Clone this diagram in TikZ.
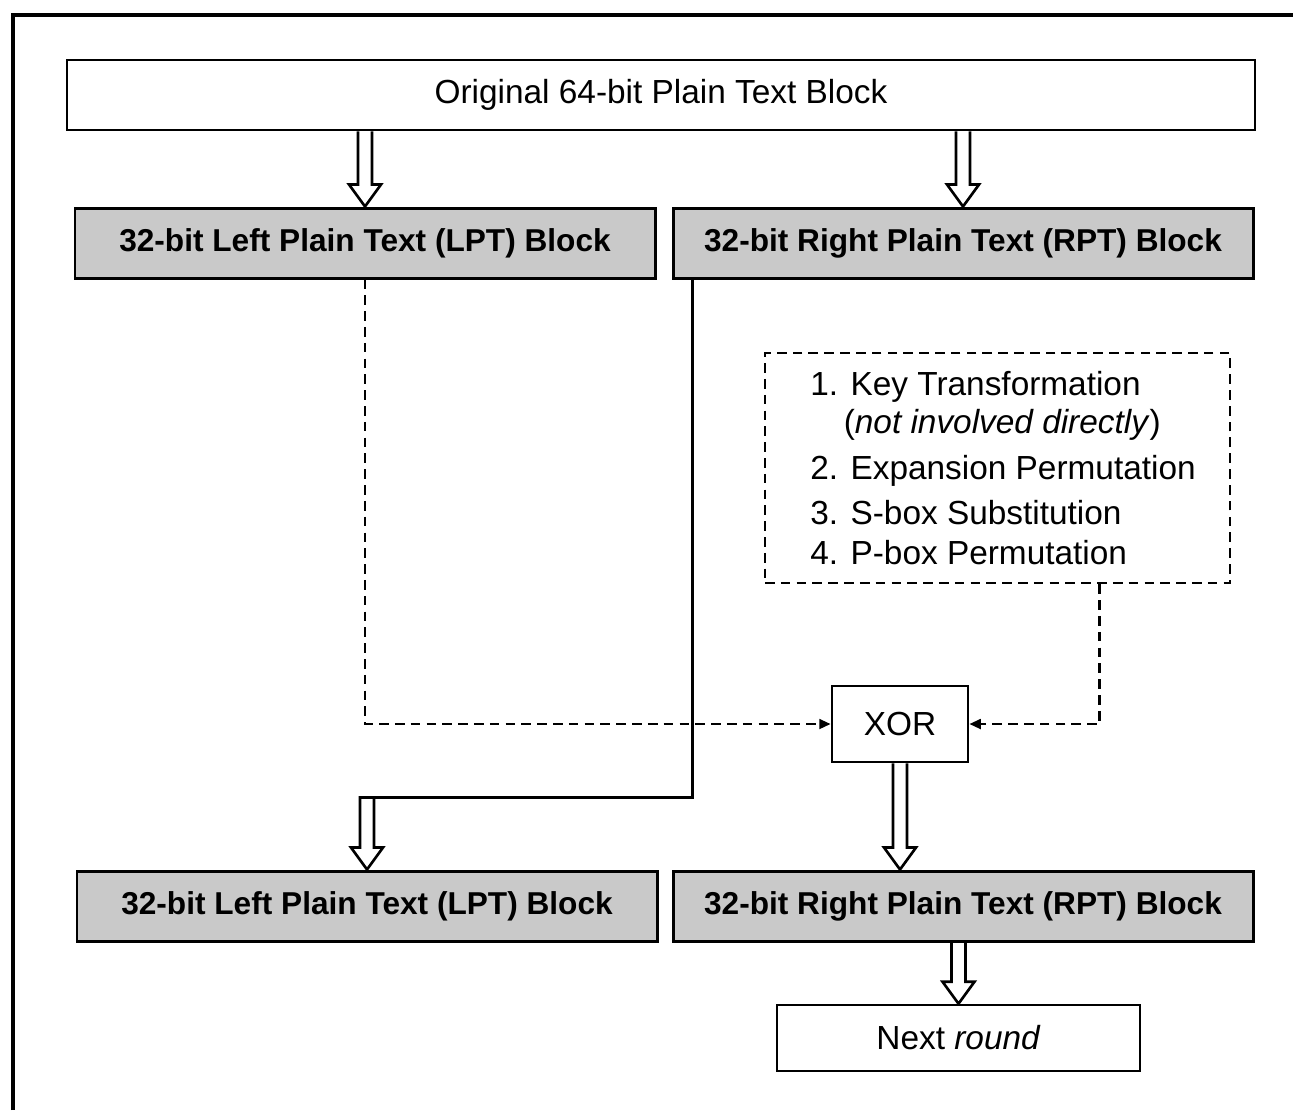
\documentclass[tikz,border=0pt]{standalone}
\usepackage{fontspec}
\setmainfont{Liberation Sans}
\usetikzlibrary{arrows.meta,calc}

\newlength\px
\setlength\px{0.02cm}

% hollow downward block arrow from #1 to #2 (same x)
\newcommand\fatdown[2]{%
  \draw[fatline] let \p1=(#1), \p2=(#2) in
    (\x1-7\px,\y1) -- (\x1-7\px,\y2+22\px) -- (\x1-16\px,\y2+22\px) -- (\x1,\y2)
    -- (\x1+16\px,\y2+22\px) -- (\x1+7\px,\y2+22\px) -- (\x1+7\px,\y1);}

\tikzset{
  txt/.style={font=\fontsize{19}{21.5}\selectfont},
  plainbox/.style={draw, line width=1.5pt, fill=white, inner sep=0pt, txt},
  halfbox/.style={draw, line width=1.7pt, fill=gray!42, inner sep=0pt,
    minimum width=580\px, minimum height=70\px,
    font=\fontsize{18}{21}\selectfont\bfseries},
  fatline/.style={line width=1.5pt, line join=miter},
  dashline/.style={line width=1.5pt, dash pattern=on 5.5pt off 3.5pt,
    -{Triangle[length=6.5pt,width=5.5pt]}},
}

\begin{document}
\begin{tikzpicture}[x=1\px, y=-1\px]
\useasboundingbox (0,0) rectangle (1293,1110);

% page frame (top and left edges)
\draw[line width=1.8pt] (13,1110) -- (13,15) -- (1293,15);

% blocks
\node[plainbox, minimum width=1188\px, minimum height=70\px] (orig) at (661,95)
  {Original 64-bit Plain Text Block};
\node[halfbox] (lpt1) at (365,243) {32-bit Left Plain Text (LPT) Block};
\node[halfbox] (rpt1) at (963,243) {32-bit Right Plain Text (RPT) Block};

\node[draw, line width=1.5pt, dash pattern=on 5.5pt off 3.5pt,
      minimum width=465\px, minimum height=230\px, inner sep=0pt] (steps) at (997.5,468) {};
\node[txt, align=left, anchor=west, inner sep=0pt] (stepstext) at (810,468)
  {1. Key Transformation\\
   \hphantom{1.\,}(\textit{not involved directly})\\[5pt]
   2. Expansion Permutation\\[4pt]
   3. S-box Substitution\\[1pt]
   4. P-box Permutation};

\node[plainbox, minimum width=136\px, minimum height=76\px] (xor) at (900,724) {XOR};

\node[halfbox] (lpt2) at (367,906) {32-bit Left Plain Text (LPT) Block};
\node[halfbox] (rpt2) at (963,906) {32-bit Right Plain Text (RPT) Block};

\node[plainbox, minimum width=363\px, minimum height=66\px] (next) at (958.5,1038)
  {Next \textit{round}};

% splitting the original block
\fatdown{lpt1.north |- orig.south}{lpt1.north}
\fatdown{rpt1.north |- orig.south}{rpt1.north}

% left half into the XOR
\draw[dashline] (lpt1.south) -- (lpt1.south |- xor.west) -- (xor.west);

% key function output into the XOR
\coordinate (keyout) at ([xshift=102\px]steps.south);
\draw[dashline] (keyout) -- (keyout |- xor.east) -- (xor.east);

% right half becomes the new left half
\draw[fatline] let \p1=(rpt1.south west), \p2=(lpt2.north) in
  (\x1+21\px,\y1) -- (\x1+21\px,\y2+72\px) -- (\x2-7\px,\y2+72\px)
  -- (\x2-7\px,\y2+22\px) -- (\x2-16\px,\y2+22\px) -- (\x2,\y2)
  -- (\x2+16\px,\y2+22\px) -- (\x2+7\px,\y2+22\px) -- (\x2+7\px,\y2+72\px);

% XOR result becomes the new right half
\fatdown{xor.south}{xor.south |- rpt2.north}
\fatdown{next.north |- rpt2.south}{next.north}
\end{tikzpicture}
\end{document}
